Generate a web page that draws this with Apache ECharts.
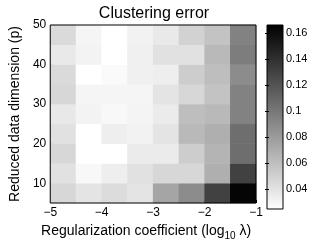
<!DOCTYPE html>
<html>
<head>
<meta charset="utf-8">
<script src="https://cdn.jsdelivr.net/npm/echarts@6/dist/echarts.min.js"></script>
<style>html,body{margin:0;padding:0;background:#fff;}#c{width:327px;height:246px;}</style>
</head>
<body>
<div id="c"></div>
<script>
// log10 lambda cell centres (columns) and p cell centres (rows, bottom to top)
const lambdaCells = [-4.75, -4.25, -3.75, -3.25, -2.75, -2.25, -1.75, -1.25];
const pCells = [7.5, 12.5, 17.5, 22.5, 27.5, 32.5, 37.5, 42.5, 47.5];
// clustering error, one row per p (bottom to top)
const err_p7 = [0.0468, 0.0395, 0.0440, 0.0395, 0.0746, 0.0885, 0.1303, 0.1637];
const err_p12 = [0.0412, 0.0284, 0.0340, 0.0412, 0.0468, 0.0468, 0.0690, 0.1303];
const err_p17 = [0.0468, 0.0245, 0.0245, 0.0356, 0.0356, 0.0523, 0.0662, 0.1052];
const err_p22 = [0.0412, 0.0245, 0.0340, 0.0317, 0.0395, 0.0635, 0.0690, 0.1052];
const err_p27 = [0.0373, 0.0312, 0.0284, 0.0306, 0.0356, 0.0607, 0.0635, 0.0941];
const err_p32 = [0.0468, 0.0301, 0.0301, 0.0301, 0.0395, 0.0468, 0.0579, 0.0941];
const err_p37 = [0.0451, 0.0245, 0.0273, 0.0329, 0.0340, 0.0523, 0.0607, 0.0885];
const err_p42 = [0.0368, 0.0312, 0.0245, 0.0329, 0.0412, 0.0412, 0.0635, 0.0969];
const err_p47 = [0.0451, 0.0301, 0.0245, 0.0317, 0.0367, 0.0496, 0.0579, 0.0941];
const errRows = [err_p7, err_p12, err_p17, err_p22, err_p27, err_p32, err_p37, err_p42, err_p47];
const xTicks = [-5, -4, -3, -2, -1];
const yTicks = [10, 20, 30, 40, 50];
const cbTicks = [0.04, 0.06, 0.08, 0.1, 0.12, 0.14, 0.16];
const cRange = [0.0245, 0.1665];

const data = [];
errRows.forEach((row, yi) => row.forEach((v, xi) => data.push([xi, yi, v])));

const FONT = 'Liberation Sans';
const chart = echarts.init(document.getElementById('c'), null, {renderer: 'canvas'});
chart.setOption({
  animation: false,
  backgroundColor: '#fff',
  textStyle: {fontFamily: FONT, color: '#000'},
  title: {
    text: 'Clustering error', left: 149, top: 1, textAlign: 'center',
    textStyle: {fontFamily: FONT, fontSize: 16, fontWeight: 'normal', color: '#000'}
  },
  grid: [
    {left: 42, top: 25, width: 214, height: 184, show: true, borderColor: '#000', borderWidth: 1, backgroundColor: 'transparent', z: 5},
    {left: 267, top: 25, width: 16, height: 184, show: true, borderColor: '#000', borderWidth: 1,
     backgroundColor: {type: 'linear', x: 0, y: 0, x2: 0, y2: 1, colorStops: [{offset: 0, color: '#000'}, {offset: 1, color: '#fff'}]}}
  ],
  xAxis: [
    {type: 'category', gridIndex: 0, data: lambdaCells, show: false},
    {type: 'value', gridIndex: 0, min: -5, max: -1, interval: 1, position: 'bottom',
     axisLine: {show: false}, splitLine: {show: false},
     axisTick: {show: true, inside: true, length: 3, lineStyle: {color: '#000'}},
     axisLabel: {fontFamily: FONT, fontSize: 12, color: '#000', margin: 4, formatter: v => String(v).replace('-', '\u2212')},
     name: 'Regularization coefficient (log{sub|10} \u03bb)', nameLocation: 'middle', nameGap: 18,
     nameTextStyle: {fontFamily: FONT, fontSize: 14, color: '#000', padding: [0, 14, 0, 0],
       rich: {sub: {fontFamily: FONT, fontSize: 10, color: '#000', padding: [10, 0, 0, 0]}}}},
    {type: 'value', gridIndex: 1, min: 0, max: 1, show: false}
  ],
  yAxis: [
    {type: 'category', gridIndex: 0, data: pCells, show: false},
    {type: 'value', gridIndex: 0, min: 5, max: 50, position: 'left',
     axisLine: {show: false}, splitLine: {show: false},
     axisTick: {show: true, inside: true, length: 3, customValues: yTicks, lineStyle: {color: '#000'}},
     axisLabel: {fontFamily: FONT, fontSize: 12, color: '#000', margin: 4, customValues: yTicks},
     name: 'Reduced data dimension (p)', nameLocation: 'middle', nameGap: 20,
     nameTextStyle: {fontFamily: FONT, fontSize: 14, color: '#000'}},
    {type: 'value', gridIndex: 1, min: cRange[0], max: cRange[1], position: 'right',
     axisLine: {show: false}, splitLine: {show: false},
     axisTick: {show: true, inside: true, length: 2, customValues: cbTicks, lineStyle: {color: '#000'}},
     axisLabel: {fontFamily: FONT, fontSize: 11, color: '#000', margin: 3, customValues: cbTicks}},
    {type: 'value', gridIndex: 1, min: cRange[0], max: cRange[1], position: 'left',
     axisLine: {show: false}, splitLine: {show: false},
     axisTick: {show: true, inside: true, length: 2, customValues: cbTicks, lineStyle: {color: '#000'}},
     axisLabel: {show: false}}
  ],
  visualMap: {
    show: false, type: 'continuous', min: cRange[0], max: cRange[1], seriesIndex: 0,
    inRange: {color: ['#ffffff', '#000000']}
  },
  series: [{
    type: 'heatmap', xAxisIndex: 0, yAxisIndex: 0, data: data,
    itemStyle: {borderWidth: 0}, emphasis: {disabled: true}
  }]
});
</script>
</body>
</html>
